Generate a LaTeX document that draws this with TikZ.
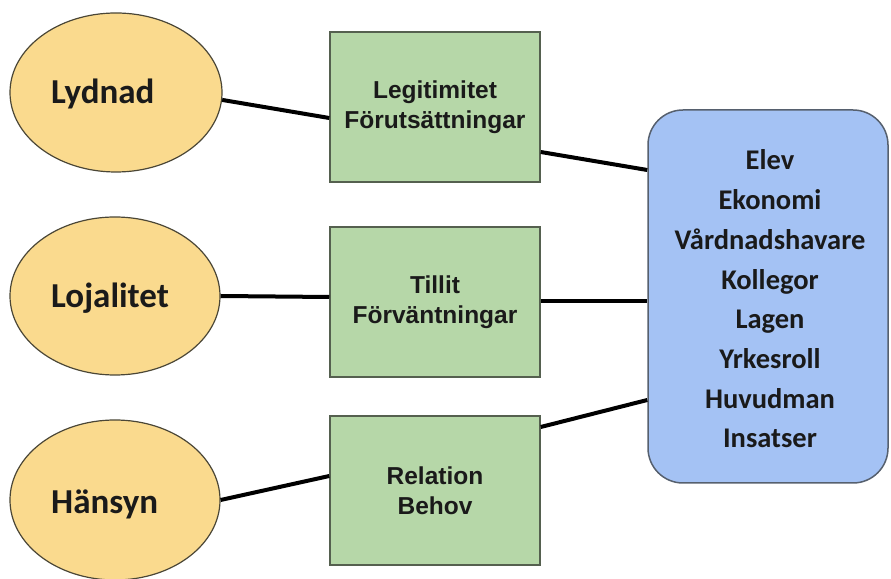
\documentclass[tikz,border=0pt]{standalone}
\usepackage{fontspec}
\usetikzlibrary{shapes.geometric}
\newfontfamily\ovalfont{Carlito}
\newfontfamily\boxfont{Liberation Sans}
\definecolor{ovalfill}{HTML}{FADA8E}
\definecolor{ovalline}{HTML}{4A4636}
\definecolor{greenfill}{HTML}{B6D7A8}
\definecolor{greenline}{HTML}{55604F}
\definecolor{bluefill}{HTML}{A4C2F4}
\definecolor{blueline}{HTML}{56606E}
\definecolor{inktext}{HTML}{1A1A1A}
\tikzset{
  oval/.style={ellipse, draw=ovalline, line width=1.2pt, fill=ovalfill, inner sep=0pt},
  ovaltext/.style={anchor=base west, inner sep=0pt, text=inktext,
    font=\ovalfont\bfseries\fontsize{35}{40}\selectfont},
  greenbox/.style={rectangle, draw=greenline, line width=1.5pt, fill=greenfill,
    minimum width=210pt, minimum height=150pt, inner sep=0pt, align=center, text=inktext,
    font=\boxfont\bfseries\fontsize{24.5}{30}\selectfont},
  bluebox/.style={rectangle, rounded corners=35pt, draw=blueline, line width=1.5pt,
    fill=bluefill, minimum width=240pt, minimum height=373pt, inner sep=0pt},
  listtext/.style={inner sep=0pt, align=center, text=inktext,
    font=\ovalfont\bfseries\fontsize{28.5}{39.7}\selectfont},
  conn/.style={line width=4pt, black}
}
\begin{document}
\begin{tikzpicture}[x=1pt, y=1pt]
  \useasboundingbox (0,0) rectangle (891,578);

  % left column: the three ovals
  \node[oval, minimum width=212pt, minimum height=159pt] (e1) at (116,485.5) {};
  \node[oval, minimum width=210pt, minimum height=158pt] (e2) at (115,282) {};
  \node[oval, minimum width=210pt, minimum height=160pt] (e3) at (115,78) {};
  \node[ovaltext] (t1) at (51,474) {Lydnad};
  \node[ovaltext] (t2) at (51,270) {Lojalitet};
  \node[ovaltext] (t3) at (51,64) {Hänsyn};

  % middle column: green boxes
  \node[greenbox] (g1) at (435,471) {Legitimitet\\Förutsättningar};
  \node[greenbox] (g2) at (435,276) {Tillit\\Förväntningar};
  \node[greenbox, minimum height=149pt] (g3) at (435,87.5) {Relation\\Behov};

  % right column: the rounded list box
  \node[bluebox] (b) at (768,281.5) {};
  \node[listtext] (bt) at (770,279) {Elev\\Ekonomi\\Vårdnadshavare\\Kollegor\\Lagen\\Yrkesroll\\Huvudman\\Insatser};

  % connectors
  \draw[conn] (e1.-4) -- ([yshift=-11pt]g1.west);
  \draw[conn] ([yshift=-45pt]g1.east) -- ([yshift=126.5pt]b.west);
  \draw[conn] (e2.east) -- ([yshift=5pt]g2.west);
  \draw[conn] ([yshift=1pt]g2.east) -- ([yshift=-4.5pt]b.west);
  \draw[conn] (e3.east) -- ([yshift=14.5pt]g3.west);
  \draw[conn] ([yshift=63.5pt]g3.east) -- ([yshift=-103.5pt]b.west);
\end{tikzpicture}
\end{document}
